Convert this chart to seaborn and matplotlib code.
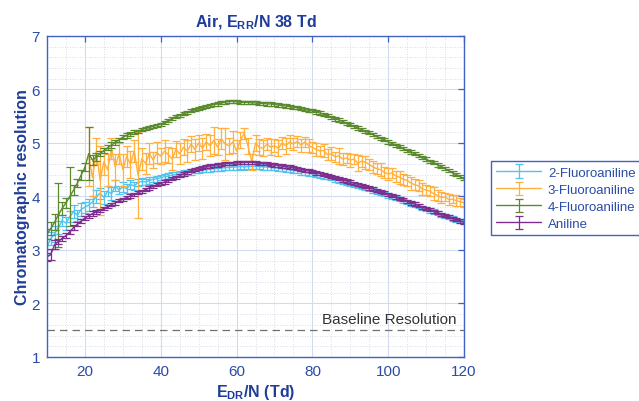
import numpy as np
import pandas as pd
import seaborn as sns
from matplotlib import pyplot as plt

# E_DR/N values (Td)
x_vals = list(range(10, 121))

aniline = [2.87, 2.92, 3.10, 3.16, 3.22, 3.27, 3.34, 3.42, 3.48, 3.54,
           3.60, 3.64, 3.68, 3.71, 3.74, 3.78, 3.81, 3.85, 3.88, 3.92,
           3.95, 3.98, 4.01, 4.04, 4.07, 4.10, 4.13, 4.16, 4.19, 4.22,
           4.24, 4.27, 4.30, 4.33, 4.36, 4.39, 4.42, 4.45, 4.48, 4.50,
           4.52, 4.54, 4.56, 4.57, 4.58, 4.59, 4.60, 4.61, 4.62, 4.62,
           4.63, 4.63, 4.64, 4.64, 4.64, 4.63, 4.62, 4.62, 4.61, 4.60,
           4.59, 4.58, 4.57, 4.56, 4.55, 4.54, 4.52, 4.51, 4.49, 4.48,
           4.46, 4.44, 4.43, 4.41, 4.39, 4.37, 4.35, 4.33, 4.31, 4.29,
           4.27, 4.25, 4.23, 4.21, 4.18, 4.16, 4.14, 4.11, 4.09, 4.07,
           4.04, 4.02, 3.99, 3.96, 3.94, 3.91, 3.88, 3.86, 3.83, 3.80,
           3.78, 3.75, 3.72, 3.70, 3.67, 3.64, 3.62, 3.59, 3.57, 3.54,
           3.52]
aniline_err = [0.08, 0.10, 0.08, 0.05, 0.05, 0.05, 0.04, 0.05, 0.04, 0.04,
               0.04, 0.04, 0.04, 0.03, 0.03, 0.03, 0.03, 0.03, 0.03, 0.03,
               0.03, 0.03, 0.03, 0.03, 0.03, 0.03, 0.03, 0.03, 0.03, 0.03,
               0.03, 0.03, 0.03, 0.03, 0.03, 0.03, 0.03, 0.03, 0.03, 0.03,
               0.03, 0.03, 0.03, 0.03, 0.03, 0.03, 0.03, 0.03, 0.03, 0.03,
               0.03, 0.03, 0.03, 0.03, 0.03, 0.03, 0.03, 0.03, 0.03, 0.03,
               0.03, 0.03, 0.03, 0.03, 0.03, 0.03, 0.03, 0.03, 0.03, 0.03,
               0.03, 0.03, 0.03, 0.03, 0.03, 0.03, 0.03, 0.03, 0.03, 0.03,
               0.03, 0.03, 0.03, 0.03, 0.03, 0.03, 0.03, 0.03, 0.03, 0.03,
               0.03, 0.03, 0.03, 0.03, 0.03, 0.03, 0.03, 0.03, 0.03, 0.03,
               0.03, 0.03, 0.03, 0.03, 0.03, 0.03, 0.03, 0.03, 0.03, 0.03,
               0.03]

fluoro2 = [3.05, 3.22, 3.30, 3.42, 3.55, 3.50, 3.62, 3.72, 3.65, 3.76,
           3.80, 3.84, 3.90, 4.00, 4.06, 3.98, 4.10, 4.05, 4.20, 4.12,
           4.18, 4.15, 4.22, 4.20, 4.26, 4.28, 4.27, 4.30, 4.32, 4.33,
           4.35, 4.37, 4.38, 4.40, 4.41, 4.42, 4.44, 4.45, 4.46, 4.48,
           4.49, 4.50, 4.50, 4.51, 4.52, 4.52, 4.53, 4.54, 4.54, 4.55,
           4.55, 4.56, 4.55, 4.56, 4.56, 4.56, 4.56, 4.55, 4.55, 4.54,
           4.54, 4.53, 4.52, 4.51, 4.50, 4.49, 4.48, 4.46, 4.45, 4.44,
           4.42, 4.41, 4.39, 4.37, 4.36, 4.34, 4.32, 4.30, 4.28, 4.26,
           4.24, 4.22, 4.20, 4.18, 4.16, 4.14, 4.11, 4.09, 4.07, 4.05,
           4.02, 4.00, 3.97, 3.95, 3.92, 3.90, 3.87, 3.85, 3.82, 3.79,
           3.77, 3.74, 3.72, 3.69, 3.66, 3.64, 3.61, 3.59, 3.56, 3.54,
           3.52]
fluoro2_err = [0.15, 0.12, 0.15, 0.12, 0.10, 0.12, 0.10, 0.12, 0.10, 0.12,
               0.10, 0.12, 0.10, 0.12, 0.10, 0.12, 0.10, 0.12, 0.10, 0.08,
               0.10, 0.08, 0.08, 0.08, 0.07, 0.06, 0.06, 0.06, 0.05, 0.05,
               0.05, 0.05, 0.05, 0.05, 0.05, 0.05, 0.05, 0.05, 0.05, 0.05,
               0.05, 0.05, 0.05, 0.05, 0.05, 0.05, 0.05, 0.05, 0.05, 0.05,
               0.05, 0.05, 0.05, 0.05, 0.05, 0.05, 0.05, 0.05, 0.05, 0.05,
               0.05, 0.05, 0.05, 0.05, 0.05, 0.05, 0.05, 0.05, 0.05, 0.05,
               0.04, 0.04, 0.04, 0.04, 0.04, 0.04, 0.04, 0.04, 0.04, 0.04,
               0.04, 0.04, 0.04, 0.04, 0.04, 0.04, 0.04, 0.04, 0.04, 0.04,
               0.04, 0.04, 0.04, 0.04, 0.04, 0.04, 0.04, 0.04, 0.04, 0.04,
               0.04, 0.04, 0.04, 0.04, 0.04, 0.04, 0.04, 0.04, 0.04, 0.04,
               0.04]

fluoro3 = [np.nan, np.nan, np.nan, np.nan, np.nan, np.nan, np.nan, np.nan, np.nan, np.nan,
           np.nan, 4.75, 4.35, 4.85, 4.30, 4.65, 4.50, 4.90, 4.55, 4.80,
           4.50, 4.75, 4.60, 4.85, 4.40, 4.70, 4.62, 4.80, 4.68, 4.82,
           4.75, 4.85, 4.78, 4.70, 4.88, 4.80, 4.92, 4.85, 4.98, 4.88,
           5.00, 4.90, 5.02, 4.95, 5.05, 4.92, 5.08, 4.98, 4.95, 5.02,
           4.85, 5.05, 5.18, 4.95, 4.65, 5.00, 4.92, 4.90, 4.98, 4.92,
           4.95, 4.90, 5.00, 4.95, 5.02, 4.98, 5.03, 4.96, 5.02, 4.95,
           4.92, 4.88, 4.85, 4.86, 4.78, 4.80, 4.74, 4.76, 4.70, 4.72,
           4.68, 4.70, 4.62, 4.66, 4.64, 4.60, 4.55, 4.52, 4.50, 4.45,
           4.42, 4.44, 4.38, 4.36, 4.32, 4.30, 4.25, 4.22, 4.20, 4.14,
           4.12, 4.10, 4.05, 4.02, 3.98, 3.99, 3.94, 3.95, 3.92, 3.90,
           3.88]
fluoro3_err = [np.nan, np.nan, np.nan, np.nan, np.nan, np.nan, np.nan, np.nan, np.nan, np.nan,
               np.nan, 0.55, 0.35, 0.25, 0.65, 0.25, 0.30, 0.20, 0.25, 0.20,
               0.30, 0.20, 0.25, 0.20, 0.80, 0.20, 0.20, 0.20, 0.15, 0.20,
               0.15, 0.20, 0.15, 0.20, 0.15, 0.20, 0.15, 0.20, 0.15, 0.20,
               0.15, 0.20, 0.15, 0.20, 0.25, 0.15, 0.20, 0.30, 0.15, 0.20,
               0.20, 0.15, 0.10, 0.15, 0.15, 0.15, 0.15, 0.15, 0.12, 0.15,
               0.12, 0.15, 0.12, 0.15, 0.12, 0.12, 0.10, 0.12, 0.10, 0.12,
               0.10, 0.12, 0.10, 0.12, 0.10, 0.12, 0.10, 0.15, 0.12, 0.10,
               0.12, 0.10, 0.15, 0.10, 0.12, 0.10, 0.12, 0.10, 0.12, 0.10,
               0.12, 0.10, 0.10, 0.12, 0.10, 0.10, 0.12, 0.10, 0.10, 0.12,
               0.10, 0.10, 0.12, 0.10, 0.10, 0.08, 0.10, 0.08, 0.10, 0.08,
               0.08]

fluoro4 = [3.30, 3.40, 3.52, 3.66, 3.78, 3.88, 4.00, 4.12, 4.25, 4.40,
           4.55, 4.80, 4.68, 4.74, 4.80, 4.86, 4.91, 4.96, 5.01, 5.06,
           5.11, 5.14, 5.17, 5.20, 5.22, 5.25, 5.27, 5.29, 5.31, 5.33,
           5.35, 5.39, 5.42, 5.46, 5.49, 5.52, 5.55, 5.57, 5.60, 5.62,
           5.64, 5.66, 5.68, 5.70, 5.72, 5.73, 5.75, 5.76, 5.78, 5.78,
           5.77, 5.76, 5.76, 5.76, 5.75, 5.75, 5.74, 5.74, 5.73, 5.73,
           5.72, 5.71, 5.70, 5.69, 5.68, 5.67, 5.66, 5.64, 5.63, 5.61,
           5.60, 5.58, 5.56, 5.53, 5.51, 5.48, 5.45, 5.43, 5.40, 5.37,
           5.34, 5.31, 5.28, 5.25, 5.22, 5.19, 5.16, 5.12, 5.09, 5.06,
           5.02, 4.99, 4.96, 4.93, 4.89, 4.86, 4.83, 4.80, 4.77, 4.73,
           4.70, 4.66, 4.63, 4.59, 4.56, 4.52, 4.48, 4.44, 4.41, 4.37,
           4.33]
fluoro4_err = [0.10, 0.12, 0.15, 0.60, 0.12, 0.10, 0.55, 0.10, 0.08, 0.10,
               0.08, 0.50, 0.10, 0.08, 0.05, 0.05, 0.05, 0.05, 0.05, 0.04,
               0.04, 0.04, 0.04, 0.04, 0.03, 0.03, 0.03, 0.03, 0.03, 0.03,
               0.03, 0.03, 0.03, 0.03, 0.03, 0.03, 0.03, 0.03, 0.03, 0.03,
               0.03, 0.03, 0.03, 0.03, 0.03, 0.03, 0.03, 0.03, 0.03, 0.03,
               0.03, 0.03, 0.03, 0.03, 0.03, 0.03, 0.03, 0.03, 0.03, 0.03,
               0.03, 0.03, 0.03, 0.03, 0.03, 0.03, 0.03, 0.03, 0.03, 0.03,
               0.03, 0.03, 0.03, 0.03, 0.03, 0.03, 0.03, 0.03, 0.03, 0.03,
               0.03, 0.03, 0.03, 0.03, 0.03, 0.03, 0.03, 0.03, 0.03, 0.03,
               0.03, 0.03, 0.03, 0.03, 0.03, 0.03, 0.03, 0.03, 0.03, 0.03,
               0.03, 0.03, 0.03, 0.03, 0.03, 0.03, 0.03, 0.03, 0.03, 0.03,
               0.03]

series_names = ["2-Fluoroaniline", "3-Fluoroaniline", "4-Fluoroaniline", "Aniline"]
series_vals = [fluoro2, fluoro3, fluoro4, aniline]
series_errs = [fluoro2_err, fluoro3_err, fluoro4_err, aniline_err]
colors = ["#52C3EE", "#FFB03E", "#5B8A2E", "#7E2F8E"]

baseline_value = 1.5
baseline_label = "Baseline Resolution"

TEXT_BLUE = "#2A4CA8"
AXIS_BLUE = "#3F62C4"

sns.set_theme(style="whitegrid")
plt.rcParams["font.family"] = ["Liberation Sans", "DejaVu Sans"]
plt.rcParams["mathtext.fontset"] = "custom"
plt.rcParams["mathtext.rm"] = "Liberation Sans"
plt.rcParams["mathtext.bf"] = "Liberation Sans:bold"

fig = plt.figure(figsize=(6.39, 4.02), dpi=100)
ax = fig.add_axes([0.0736, 0.1095, 0.6526, 0.7985])
ax.set_facecolor("white")

handles = []
for name, vals, errs, col in zip(series_names, series_vals, series_errs, colors):
    df = pd.DataFrame({"x": x_vals, "y": vals})
    sns.lineplot(data=df, x="x", y="y", color=col, linewidth=1.0, ax=ax,
                 estimator=None, sort=False, legend=False)
    line = ax.lines[-1]
    eb = ax.errorbar(x_vals, vals, yerr=errs, fmt="none", ecolor=col,
                     elinewidth=0.9, capsize=3, capthick=0.9)
    handles.append((line, eb))

ax.axhline(baseline_value, color="#707070", linestyle=(0, (6, 4)), linewidth=0.9)
ax.text(118, baseline_value + 0.07, baseline_label, ha="right", va="bottom",
        fontsize=11, color="#333333")

ax.set_xlim(10, 120)
ax.set_ylim(1, 7)
ax.set_xticks([20, 40, 60, 80, 100, 120])
ax.set_yticks([1, 2, 3, 4, 5, 6, 7])
ax.set_xticks(np.arange(10, 121, 5), minor=True)
ax.set_yticks(np.arange(1, 7.01, 0.2), minor=True)

ax.grid(which="major", color="#D3DBEF", linestyle="-", linewidth=0.8)
ax.grid(which="minor", color="#C9D0E2", linestyle=(0, (1, 2)), linewidth=0.6)
ax.set_axisbelow(True)

for sp in ax.spines.values():
    sp.set_color(AXIS_BLUE)
    sp.set_linewidth(1.0)
ax.tick_params(which="major", direction="in", length=4, width=0.9, color=AXIS_BLUE,
               top=True, right=True, labelsize=11, labelcolor=TEXT_BLUE, pad=5)
ax.tick_params(which="minor", length=0, top=True, right=True)

ax.set_title(r"Air, $\mathbf{E_{RR}}$/N 38 Td", fontsize=11.5, fontweight="bold",
             color="#1F3C98", pad=7)
ax.set_xlabel(r"$\mathbf{E_{DR}}$/N (Td)", fontsize=11.5, fontweight="bold",
              color="#1F3C98", labelpad=3)
ax.set_ylabel("Chromatographic resolution", fontsize=11.5, fontweight="bold",
              color="#1F3C98", labelpad=1)

leg = ax.legend(handles, series_names, loc="upper left", bbox_to_anchor=(1.065, 0.61),
                borderaxespad=0, fontsize=9.5, handlelength=3.4, labelspacing=0.37,
                frameon=True, fancybox=False, framealpha=1, borderpad=0.4,
                handletextpad=0.5)
leg.get_frame().set_edgecolor(AXIS_BLUE)
leg.get_frame().set_linewidth(1.0)
for t in leg.get_texts():
    t.set_color(TEXT_BLUE)

fig.savefig("out.png", dpi=100)
